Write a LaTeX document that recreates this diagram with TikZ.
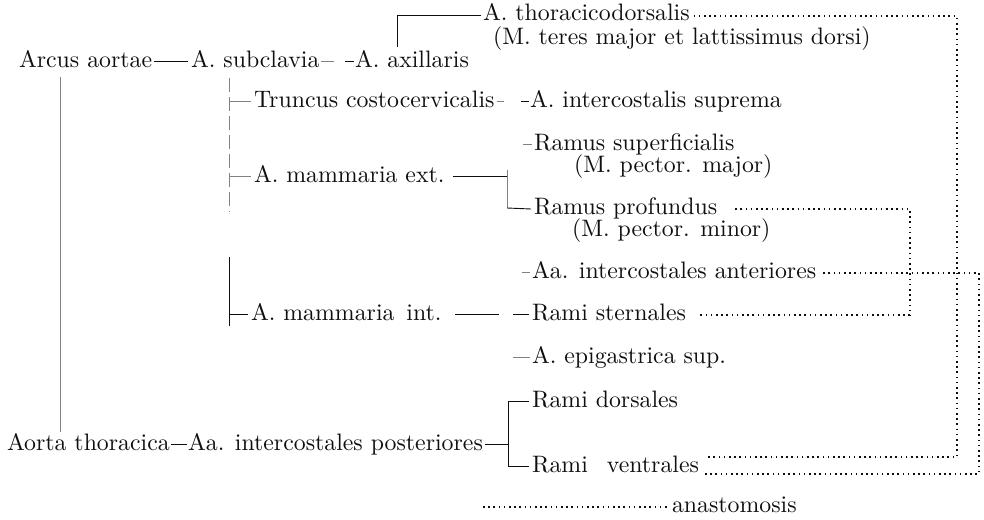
\documentclass[tikz,border=0pt]{standalone}
\usepackage{fontspec}
\setmainfont{lmroman10-regular.otf}
\usetikzlibrary{calc}
\definecolor{ink}{RGB}{15,15,15}
\definecolor{faint}{RGB}{130,130,130}
\begin{document}
\begin{tikzpicture}[x=1pt,y=-1pt,
  lbl/.style={anchor=base west,inner sep=0pt,outer sep=0pt,text=ink,font=\fontsize{23.8}{26}\selectfont},
  ln/.style={draw=ink,line width=0.9pt},
  fln/.style={draw=faint,line width=0.7pt},
  fdash/.style={draw=faint,line width=0.7pt,dash pattern=on 14pt off 5pt},
  anast/.style={draw=ink,line width=1.6pt,dash pattern=on 1.6pt off 3.6pt}]
\useasboundingbox (0,0) rectangle (984,519);
\fill[white] (0,0) rectangle (984,519);

% ---------- text nodes ----------
\node[lbl] (thor)   at (483,21)  {A. thoracicodorsalis};
\node[lbl] (teres)  at (493,45)  {(M. teres major et lattissimus dorsi)};
\node[lbl] (arcus)  at (19,67)   {Arcus aortae};
\node[lbl] (subcl)  at (191,67)  {A. subclavia};
\node[lbl] (axil)   at (355,67)  {A. axillaris};
\node[lbl] (trunc)  at (254,107) {Truncus costocervicalis};
\node[lbl] (supr)   at (530,107) {A. intercostalis suprema};
\node[lbl] (superf) at (534,150) {Ramus superficialis};
\node[lbl] (pmaj)   at (574,172) {(M. pector. major)};
\node[lbl] (mext)   at (254,182) {A. mammaria ext.};
\node[lbl] (prof)   at (534,214) {Ramus profundus};
\node[lbl] (pmin)   at (572,236) {(M. pector. minor)};
\node[lbl] (ant)    at (532,278) {Aa. intercostales anteriores};
\node[lbl] (mint)   at (251,320) {A. mammaria\hspace{0.5em}int.};
\node[lbl] (stern)  at (532,320) {Rami sternales};
\node[lbl] (epig)   at (532,363) {A. epigastrica sup.};
\node[lbl] (dors)   at (532,407) {Rami dorsales};
\node[lbl] (aorta)  at (7,450)   {Aorta thoracica};
\node[lbl] (post)   at (188,450) {Aa. intercostales posteriores};
\node[lbl] (vent)   at (532,472) {Rami\hspace{0.8em}ventrales};
\node[lbl] (anas)   at (672,512) {anastomosis};

% ---------- bracket points ----------
\coordinate (bx1) at (397,47);
\coordinate (bx2) at (397,15);
\coordinate (s1) at (229,78);
\coordinate (s2) at (229,212);
\coordinate (s3) at (229,257);
\coordinate (s4) at (229,326);
\coordinate (e1) at (507,170);
\coordinate (e2) at (507,208);
\coordinate (p1) at (508,401);
\coordinate (p2) at (508,467);

% ---------- solid connectors ----------
% main trunk
\draw[fln] ($(arcus.base west)+(41,10)$) -- ($(aorta.base west)+(53,-18)$);
% arcus -- subclavia
\draw[ln] ($(arcus.base east)+(2,-6)$) -- ($(subcl.base west)+(-3,-6)$);
% subclavia -- axillaris
\draw[fln] ($(subcl.base east)+(2,-6)$) -- ++(13,0);
\draw[ln] ($(axil.base west)+(-10,-6)$) -- ($(axil.base west)+(-1,-6)$);
% axillaris -- thoracicodorsalis
\draw[ln] (bx1) -- (bx2) -- ($(thor.base west)+(-2,-6)$);
% subclavia trunk
\draw[fdash] (s1) -- (s2);
\draw[ln] (s3) -- (s4);
\draw[fln] (s1 |- trunc.base) ++(0,-6) -- ($(trunc.base west)+(-3,-6)$);
\draw[fln] (s1 |- mext.base) ++(0,-6) -- ($(mext.base west)+(-3,-6)$);
\draw[ln] (s1 |- mint.base) ++(0,-6) -- ($(mint.base west)+(-3,-6)$);
% truncus -- suprema
\draw[fln] ($(trunc.base east)+(2,-6)$) -- ++(7,0);
\draw[ln] ($(supr.base west)+(-9,-6)$) -- ($(supr.base west)+(-1,-6)$);
% mammaria ext bracket
\draw[ln] ($(mext.base east)+(9,-6)$) -- (e1 |- 0,176);
\draw[fln] (e1) -- (e2);
\draw[ln] (e2) -- ($(prof.base west)+(-3,-5)$);
\draw[fln] ($(superf.base west)+(-11,-6)$) -- ($(superf.base west)+(-2,-6)$);
% mammaria int -- sternales
\draw[ln] ($(mint.base east)+(14,-6)$) -- (499,314);
\draw[ln] ($(stern.base west)+(-19,-6)$) -- ($(stern.base west)+(-3,-6)$);
\draw[fln] ($(ant.base west)+(-10,-6)$) -- ($(ant.base west)+(-2,-6)$);
\draw[fln] ($(epig.base west)+(-19,-6)$) -- ($(epig.base west)+(-2,-6)$);
% aorta thoracica -- posteriores -- rami
\draw[ln] ($(aorta.base east)+(1,-6)$) -- ($(post.base west)+(-1,-6)$);
\draw[ln] ($(post.base east)+(2,-6)$) -- (p1 |- 0,444);
\draw[ln] (p1) -- (p2);
\draw[ln] (p1 |- dors.base) ++(0,-6) -- ($(dors.base west)+(-3,-6)$);
\draw[ln] (p2 |- vent.base) ++(0,-6) -- ($(vent.base west)+(-3,-6)$);

% ---------- anastomoses (dotted) ----------
\draw[anast] ($(thor.base east)+(4,-5)$) -- (957,16) -- (957,457) -- ($(vent.base east)+(6,-15)$);
\draw[anast] ($(prof.base east)+(18,-5)$) -- (910,209) -- (910,315) -- ($(stern.base east)+(13,-5)$);
\draw[anast] ($(ant.base east)+(7,-5)$) -- (979,273) -- (979,474) -- ($(vent.base east)+(6,2)$);
\draw[anast] (483,507) -- ($(anas.base west)+(-2,-5)$);
\end{tikzpicture}
\end{document}
